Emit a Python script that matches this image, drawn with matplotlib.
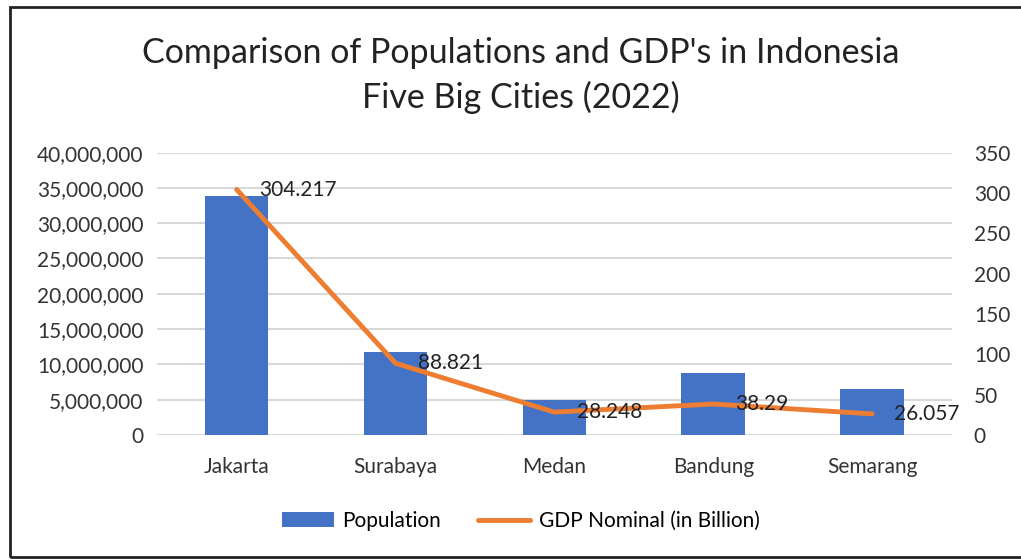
import matplotlib.pyplot as plt
from matplotlib.patches import Rectangle
from matplotlib.ticker import FuncFormatter, MultipleLocator

plt.rcParams['font.family'] = ['Lato', 'DejaVu Sans']

cities = ['Jakarta', 'Surabaya', 'Medan', 'Bandung', 'Semarang']
population = [33_800_000, 11_700_000, 4_960_000, 8_740_000, 6_470_000]
gdp = [304.217, 88.821, 28.248, 38.29, 26.057]
gdp_labels = ['304.217', '88.821', '28.248', '38.29', '26.057']

blue = '#4472C4'
orange = '#ED7D31'
fs = 15

fig = plt.figure(figsize=(10.21, 5.59), dpi=100)
ax = fig.add_axes([0.154, 0.222, 0.778, 0.505])
ax2 = ax.twinx()

x = list(range(len(cities)))
ax.bar(x, population, width=0.4, color=blue, label='Population', zorder=2)
ax.set_ylim(0, 40_000_000)
ax.set_xlim(-0.5, len(cities) - 0.5)
ax.yaxis.set_major_locator(MultipleLocator(5_000_000))
ax.yaxis.set_major_formatter(FuncFormatter(lambda v, p: f'{int(v):,}'))
ax.grid(axis='y', color='#d9d9d9', linewidth=1.5, zorder=0)
ax.set_axisbelow(True)
ax.set_xticks(x)
ax.set_xticklabels(cities)

ax2.plot(x, gdp, color=orange, linewidth=3.5, label='GDP Nominal (in Billion)',
         solid_capstyle='round', zorder=3)
ax2.set_ylim(0, 350)
ax2.yaxis.set_major_locator(MultipleLocator(50))
for xi, yi, lab in zip(x, gdp, gdp_labels):
    ax2.annotate(lab, (xi, yi), xytext=(16, 0), textcoords='offset points',
                 va='center', ha='left', fontsize=fs, color='#222222')

for a in (ax, ax2):
    for s in a.spines.values():
        s.set_visible(False)
    a.tick_params(length=0, labelsize=fs, colors='#333333')
ax.tick_params(axis='y', pad=10)
ax.tick_params(axis='x', pad=16)
ax2.tick_params(axis='y', pad=16)

fig.text(0.51, 0.906, "Comparison of Populations and GDP's in Indonesia",
         ha='center', va='center', fontsize=24.5, color='#222222')
fig.text(0.51, 0.826, 'Five Big Cities (2022)',
         ha='center', va='center', fontsize=24.5, color='#222222')

h1, l1 = ax.get_legend_handles_labels()
h2, l2 = ax2.get_legend_handles_labels()
fig.legend(h1 + h2, l1 + l2, loc='center', bbox_to_anchor=(0.51, 0.068), ncol=2,
           frameon=False, fontsize=fs, handlelength=2.5, columnspacing=1.8,
           handletextpad=0.4)

fig.patches.append(Rectangle((10 / 1021, 2 / 559), 1.1, 550 / 559,
                             transform=fig.transFigure, fill=False,
                             edgecolor='#222222', linewidth=2))

fig.savefig('out.png', dpi=100)
